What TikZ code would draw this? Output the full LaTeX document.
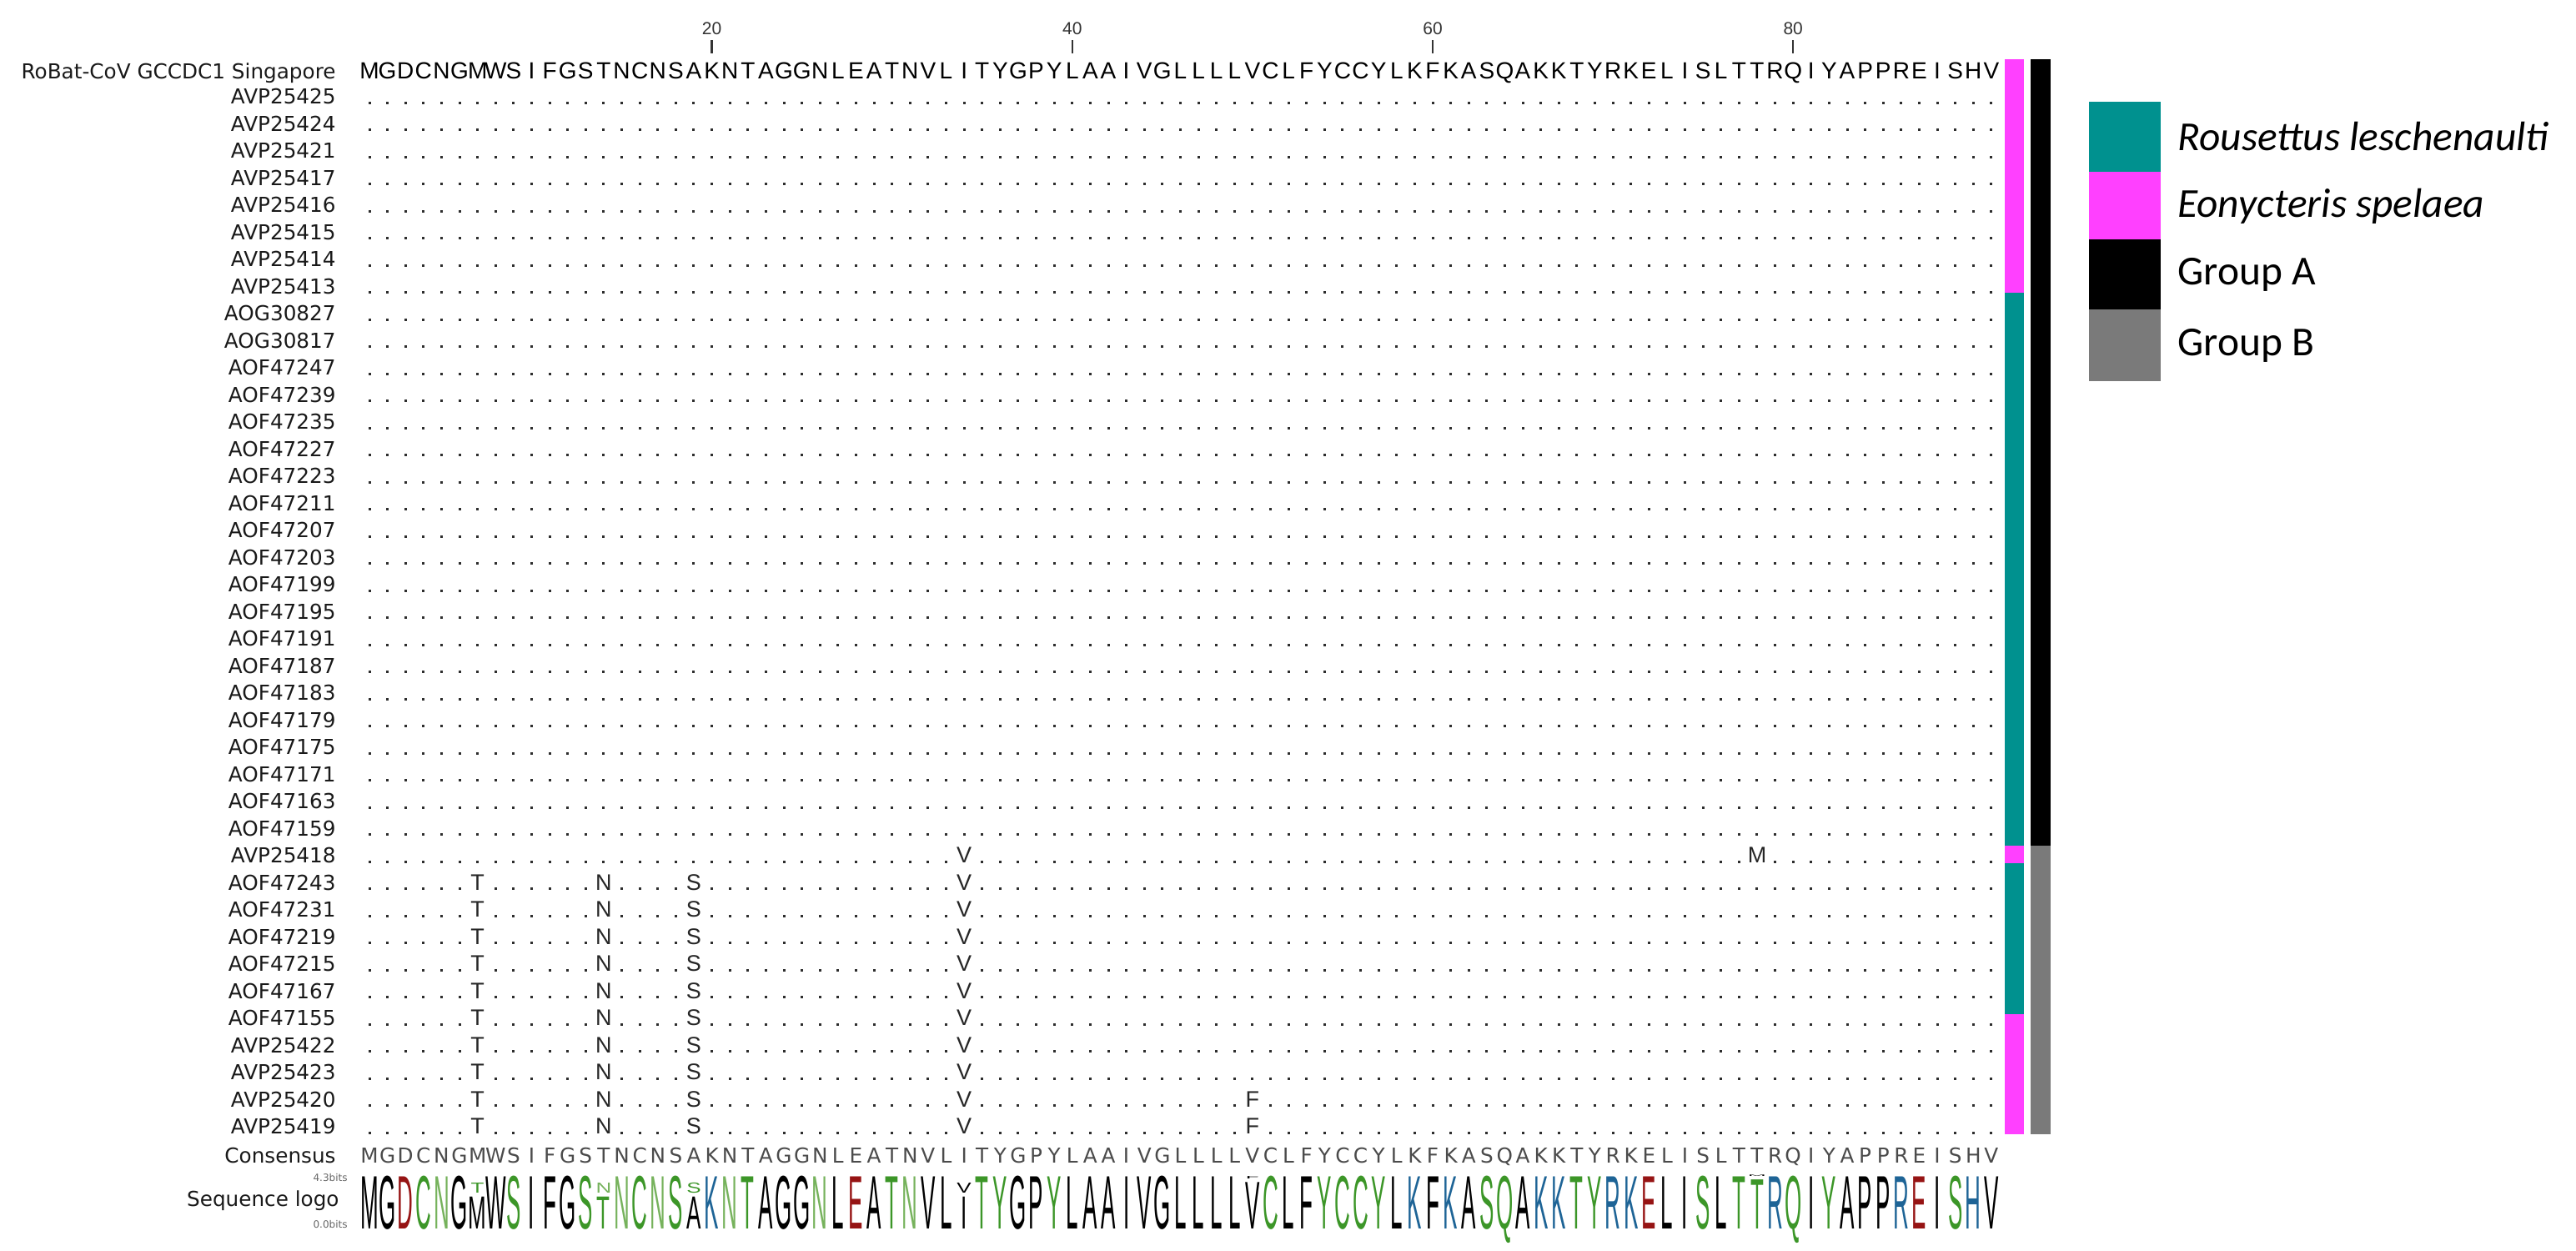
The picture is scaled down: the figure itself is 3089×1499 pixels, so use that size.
\documentclass[tikz,border=0pt]{standalone}
\usepackage{fontspec}
\usepackage{graphicx}
\setmainfont{DejaVu Sans}
\newfontfamily\labf{DejaVu Sans}
\newfontfamily\seqf{Liberation Sans}
\newfontfamily\legf{Carlito}
\definecolor{spTeal}{RGB}{0,145,143}
\definecolor{spPink}{RGB}{255,64,255}
\definecolor{grpB}{RGB}{122,122,122}
\definecolor{lgGreen}{RGB}{60,150,40}
\definecolor{lgLight}{RGB}{118,178,92}
\definecolor{lgBlue}{RGB}{30,100,150}
\definecolor{lgRed}{RGB}{150,20,20}
\definecolor{consGray}{RGB}{75,75,75}
\definecolor{dotGray}{RGB}{45,45,45}
\colorlet{lc-A}{black}\colorlet{lc-V}{black}\colorlet{lc-L}{black}
\colorlet{lc-I}{black}\colorlet{lc-P}{black}\colorlet{lc-W}{black}
\colorlet{lc-F}{black}\colorlet{lc-M}{black}\colorlet{lc-G}{black}
\colorlet{lc-C}{lgGreen}\colorlet{lc-S}{lgGreen}\colorlet{lc-T}{lgGreen}
\colorlet{lc-Y}{lgGreen}\colorlet{lc-Q}{lgGreen}\colorlet{lc-N}{lgLight}
\colorlet{lc-K}{lgBlue}\colorlet{lc-R}{lgBlue}\colorlet{lc-H}{lgBlue}
\colorlet{lc-D}{lgRed}\colorlet{lc-E}{lgRed}
\def\seqlist{M,G,D,C,N,G,M,W,S,I,F,G,S,T,N,C,N,S,A,K,N,T,A,G,G,N,L,E,A,T,N,V,L,I,T,Y,G,P,Y,L,A,A,I,V,G,L,L,L,L,V,C,L,F,Y,C,C,Y,L,K,F,K,A,S,Q,A,K,K,T,Y,R,K,E,L,I,S,L,T,T,R,Q,I,Y,A,P,P,R,E,I,S,H,V}
\def\namelist{AVP25425,AVP25424,AVP25421,AVP25417,AVP25416,AVP25415,AVP25414,AVP25413,AOG30827,AOG30817,AOF47247,AOF47239,AOF47235,AOF47227,AOF47223,AOF47211,AOF47207,AOF47203,AOF47199,AOF47195,AOF47191,AOF47187,AOF47183,AOF47179,AOF47175,AOF47171,AOF47163,AOF47159,AVP25418,AOF47243,AOF47231,AOF47219,AOF47215,AOF47167,AOF47155,AVP25422,AVP25423,AVP25420,AVP25419}
\newcommand\colx[1]{443+(#1-1)*21.61}
\newcommand\mutat[3]{\node[mutlet] (m#1x#2) at ({\colx{#2}},{92+#1*32.5}) {#3};}
\newcommand\logolet[5]{% name, column, letter, height px, base y
  \pgfmathsetmacro\sc{#4/18.6}%
  \node[logolet, text=lc-#3] (#1) at ({\colx{#2}},#5) {\scalebox{1}[\sc]{#3}};}
\begin{document}
\begin{tikzpicture}[x=0.5pt,y=-0.5pt,
  lab/.style={anchor=base east,inner sep=0pt,font=\labf\fontsize{12.35}{14}\selectfont,text=black!90},
  hdrlet/.style={anchor=base,inner sep=0pt,font=\seqf\fontsize{14}{16}\selectfont,text=black},
  conslet/.style={anchor=base,inner sep=0pt,font=\labf\fontsize{12.35}{14}\selectfont,text=consGray},
  mutlet/.style={anchor=base,inner sep=0pt,fill=white,font=\seqf\fontsize{13.5}{15}\selectfont,text=black!85},
  ticknum/.style={inner sep=0pt,font=\seqf\fontsize{10.5}{12}\selectfont,text=black!80},
  tickline/.style={line width=1.2pt,black!80},
  bitslab/.style={anchor=east,inner sep=0pt,font=\labf\fontsize{6}{7}\selectfont,text=black!60},
  logolet/.style={anchor=base,inner sep=0pt,font=\seqf\fontsize{13}{14}\selectfont},
  legtext/.style={anchor=west,inner sep=0pt,font=\legf\fontsize{24.7}{28}\selectfont,text=black}]
\useasboundingbox (0,0) rectangle (3089,1499);
% position ticks
\foreach \n in {20,40,60,80} {
  \pgfmathsetmacro\xx{\colx{\n}}
  \node[ticknum] (t\n) at (\xx,34) {\n};
  \draw[tickline] (\xx,48) -- (\xx,64);
}
% reference sequence and consensus
\node[lab] (refname) at (403,94) {RoBat-CoV GCCDC1 Singapore};
\node[lab] (consname) at (403,1394) {Consensus};
\foreach \c [count=\j] in \seqlist {
  \pgfmathsetmacro\xx{\colx{\j}}
  \node[hdrlet] (h\j) at (\xx,94) {\c};
  \node[conslet] (c\j) at (\xx,1394) {\c};
}
% identical-residue rows
\foreach \nm [count=\i] in \namelist {
  \pgfmathsetmacro\yy{92+\i*32.5}
  \node[lab] (r\i) at (403,\yy) {\nm};
  \foreach \j in {0,...,90} {
    \fill[dotGray] ({441.5+\j*21.61},{\yy-3}) rectangle ++(3,3);
  }
}
% substitutions
\mutat{29}{34}{V}\mutat{29}{78}{M}
\foreach \i in {30,...,39} {\mutat{\i}{7}{T}\mutat{\i}{14}{N}\mutat{\i}{19}{S}\mutat{\i}{34}{V}}
\mutat{38}{50}{F}\mutat{39}{50}{F}
% sequence logo
\node[lab, anchor=east] (logoname) at (407,1440) {Sequence logo};
\node[bitslab] (bitstop) at (417,1412) {4.3bits};
\node[bitslab] (bitsbot) at (417,1468) {0.0bits};
\foreach \c [count=\j] in \seqlist {
  \pgfmathsetmacro\hh{(\j==7||\j==14||\j==19||\j==34)?39.8:((\j==50)?57.9:((\j==78)?61.2:65))}
  \logolet{g\j}{\j}{\c}{\hh}{1473}
}
\logolet{gx7}{7}{T}{12.5}{1430}
\logolet{gx14}{14}{N}{12.5}{1430}
\logolet{gx19}{19}{S}{12.5}{1430}
\logolet{gx34}{34}{V}{12.5}{1430}
\logolet{gx50}{50}{F}{3.0}{1413}
\logolet{gx78}{78}{M}{1.8}{1410}
% species bar
\fill[spPink] (2404,71) rectangle (2427,351);
\fill[spTeal] (2404,351) rectangle (2427,1014);
\fill[spPink] (2404,1014) rectangle (2427,1035);
\fill[spTeal] (2404,1035) rectangle (2427,1216);
\fill[spPink] (2404,1216) rectangle (2427,1360);
% group bar
\fill[black] (2435,71) rectangle (2459,1014);
\fill[grpB] (2435,1014) rectangle (2459,1360);
% legend
\fill[spTeal] (2505,122) rectangle (2591,206);
\fill[spPink] (2505,206) rectangle (2591,287);
\fill[black] (2505,287) rectangle (2591,371);
\fill[grpB] (2505,371) rectangle (2591,457);
\node[legtext] (legR) at (2611,164) {\itshape Rousettus leschenaulti};
\node[legtext] (legE) at (2611,247) {\itshape Eonycteris spelaea};
\node[legtext] (legA) at (2611,329) {Group A};
\node[legtext] (legB) at (2611,414) {Group B};
\end{tikzpicture}
\end{document}
